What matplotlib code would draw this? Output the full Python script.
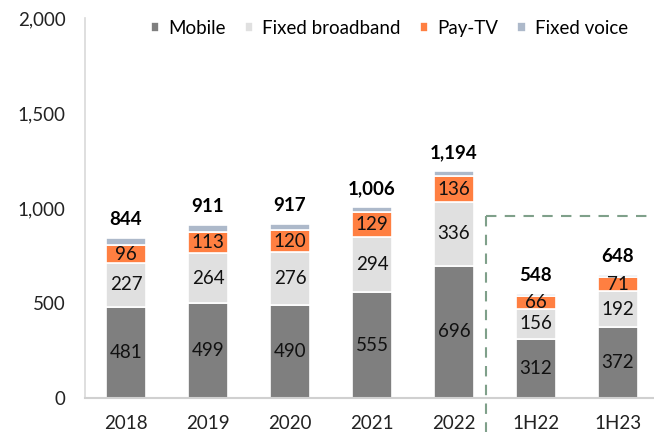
import matplotlib
matplotlib.use("Agg")
import matplotlib.pyplot as plt
import numpy as np

plt.rcParams['font.family'] = ['Lato', 'DejaVu Sans']

categories = ["2018", "2019", "2020", "2021", "2022", "1H22", "1H23"]
mobile = [481, 499, 490, 555, 696, 312, 372]
fixed_broadband = [227, 264, 276, 294, 336, 156, 192]
pay_tv = [96, 113, 120, 129, 136, 66, 71]
fixed_voice = [40, 35, 31, 28, 26, 14, 13]
totals = [844, 911, 917, 1006, 1194, 548, 648]
yticks = [0, 500, 1000, 1500, 2000]

series = [("Mobile", mobile, "#7f7f7f", True),
          ("Fixed broadband", fixed_broadband, "#e0e0e0", True),
          ("Pay-TV", pay_tv, "#ff7f41", True),
          ("Fixed voice", fixed_voice, "#adb9ca", False)]

fig = plt.figure(figsize=(6.54, 4.32), dpi=100)
ax = fig.add_axes([0.130, 0.079, 0.870, 0.879])
x = np.arange(len(categories))
bottom = np.zeros(len(categories))
handles = []
for name, vals, col, lab in series:
    v = np.array(vals, dtype=float)
    bars = ax.bar(x, v, 0.49, bottom=bottom, color=col, edgecolor="white", linewidth=1.2, label=name)
    if lab:
        for xi, b, vi in zip(x, bottom, v):
            ax.text(xi, b + vi / 2, f"{int(vi)}", ha="center", va="center", fontsize=13.5, color="#111111")
    bottom += v
    handles.append(bars)

for xi, t in zip(x, totals):
    ax.text(xi, t + 50, f"{t:,}", ha="center", va="bottom", fontsize=13.5, fontweight="bold", color="black")

ax.set_xlim(-0.5, 6.44)
ax.set_ylim(0, 2000)
ax.set_yticks(yticks)
ax.set_yticklabels([f"{t:,}" for t in yticks], fontsize=13.5, color="#222222")
ax.set_xticks(x)
ax.set_xticklabels(categories, fontsize=13.5, color="#222222")
ax.tick_params(axis="both", length=0)
ax.tick_params(axis="x", pad=12)
ax.tick_params(axis="y", pad=14)
for s in ["top", "right"]:
    ax.spines[s].set_visible(False)
ax.spines["left"].set_color("#d9d9d9")
ax.spines["bottom"].set_color("#d0d0d0")
ax.spines["left"].set_linewidth(1.2)
ax.spines["bottom"].set_linewidth(1.5)

# dashed box around half-year data
dash_col = "#7fa08a"
ax.plot([4.39, 4.39], [960, -200], ls=(0, (5, 4)), color=dash_col, lw=1.5, clip_on=False)
ax.plot([4.39, 6.44], [960, 960], ls=(0, (5, 4)), color=dash_col, lw=1.5, clip_on=False)

ax.legend(handles=handles, loc="upper center", bbox_to_anchor=(0.535, 1.04), ncol=4, frameon=False,
          fontsize=13.5, handlelength=0.45, handleheight=0.45, handletextpad=0.5, columnspacing=1.0)

fig.savefig("out.png", dpi=100)
